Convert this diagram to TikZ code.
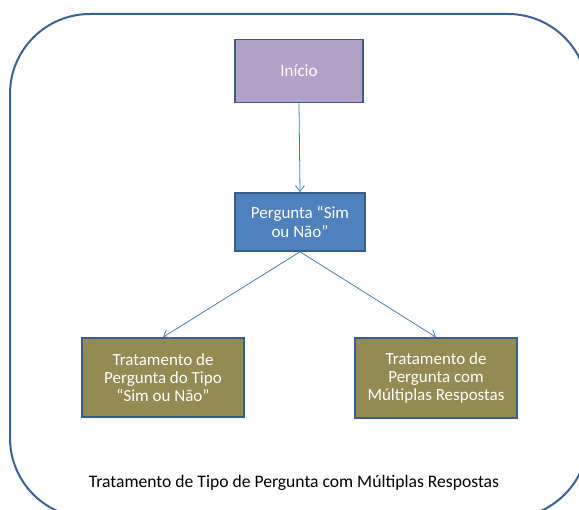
\documentclass[tikz,border=0pt]{standalone}
\usepackage{fontspec}
\setmainfont{Carlito}
\usetikzlibrary{arrows.meta}
\definecolor{frameblue}{HTML}{3B6196}
\definecolor{edgeblue}{HTML}{385D8A}
\definecolor{linkblue}{HTML}{4A7EBB}
\definecolor{startfill}{HTML}{B3A2C7}
\definecolor{askfill}{HTML}{4F81BD}
\definecolor{treatfill}{HTML}{948A54}
\tikzset{
  box/.style={draw=edgeblue, line width=1.6pt, text=white, align=center,
    inner sep=0pt, font=\fontsize{17}{18.3}\selectfont},
  link/.style={draw=linkblue, line width=0.8pt,
    -{Straight Barb[length=6pt,width=9pt,line width=0.8pt]}},
}
\begin{document}
\begin{tikzpicture}[x=1pt,y=-1pt]
\useasboundingbox (0,0) rectangle (579,510);
% outer rounded frame, running past the right and bottom edges
\begin{scope}
\clip (0,0) rectangle (579,510);
\draw[frameblue, line width=2pt, rounded corners=80pt] (10,14) rectangle (588,518);
\end{scope}
% flow boxes
\node[box, fill=startfill, minimum width=128pt, minimum height=63pt] (inicio) at (299,71) {Início};
\node[box, fill=askfill, minimum width=130pt, minimum height=58pt] (pergunta) at (300,222) {Pergunta “Sim\\ou Não”};
\node[box, fill=treatfill, minimum width=162pt, minimum height=79pt] (simnao) at (163,377.5) {Tratamento de\\Pergunta do Tipo\\“Sim ou Não”};
\node[box, fill=treatfill, minimum width=162pt, minimum height=80pt] (multi) at (436,378) {Tratamento de\\Pergunta com\\Múltiplas Respostas};
% connectors
\draw[link] (inicio.south) -- (pergunta.north);
\draw[link] (pergunta.south) -- (simnao.north);
\draw[link] (pergunta.south) -- (multi.north);
% caption
\node[font=\fontsize{17.6}{20}\selectfont, text=black, inner sep=0pt] (caption) at (294,483) {Tratamento de Tipo de Pergunta com Múltiplas Respostas};
\end{tikzpicture}
\end{document}
